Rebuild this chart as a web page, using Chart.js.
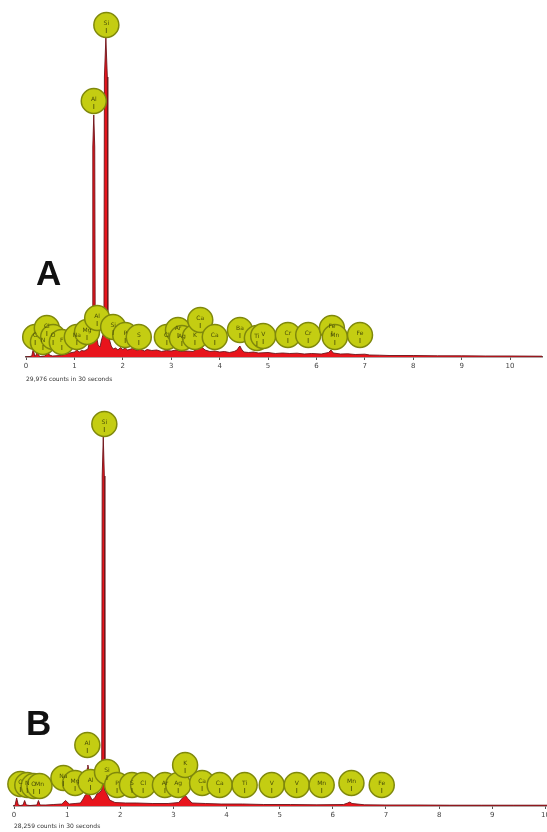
<!DOCTYPE html>
<html>
<head>
<meta charset="utf-8">
<script src="https://cdn.jsdelivr.net/npm/chart.js@4/dist/chart.umd.min.js"></script>
<style>
  body { margin: 0; background: #fff; width: 547px; height: 832px; position: relative; overflow: hidden; }
  canvas { position: absolute; left: 0; }
  #chartA { top: -4px; }
  #chartB { top: 388px; }
  .panel { position: absolute; font: bold 35px "Liberation Sans", Arial, sans-serif; line-height: 35px; color: #111; }
</style>
</head>
<body>
<canvas id="chartA" width="556" height="389"></canvas>
<canvas id="chartB" width="561" height="444"></canvas>
<div class="panel" style="left:36px; top:255px;">A</div>
<div class="panel" style="left:26px; top:705px;">B</div>
<script>
// spectrum A (keV, counts)
const energyA = [0, 0.08, 0.12, 0.15, 0.18, 0.21, 0.23, 0.26, 0.3, 0.38, 0.42, 0.45, 0.48, 0.55, 0.7, 0.8, 0.9, 1.0, 1.05, 1.1, 1.15, 1.2, 1.28, 1.31, 1.34, 1.37, 1.38, 1.4, 1.42, 1.43, 1.46, 1.49, 1.53, 1.56, 1.59, 1.61, 1.62, 1.65, 1.68, 1.69, 1.72, 1.76, 1.8, 1.85, 1.9, 1.95, 2.0, 2.05, 2.1, 2.2, 2.3, 2.35, 2.45, 2.5, 2.6, 2.7, 2.8, 2.9, 3.0, 3.1, 3.2, 3.3, 3.45, 3.52, 3.56, 3.6, 3.64, 3.7, 3.8, 3.9, 4.0, 4.1, 4.2, 4.3, 4.36, 4.4, 4.42, 4.45, 4.5, 4.6, 4.7, 4.8, 5.0, 5.15, 5.3, 5.45, 5.6, 5.75, 5.9, 6.1, 6.25, 6.3, 6.35, 6.5, 6.65, 6.8, 7.0, 7.1, 7.3, 7.5, 8.0, 8.5, 9.0, 9.5, 10.0, 10.66];
const countsA = [0, 5, 10, 80, 10, 15, 90, 15, 5, 10, 20, 80, 20, 10, 15, 25, 40, 50, 70, 50, 65, 60, 80, 150, 230, 250, 2100, 2420, 2100, 260, 200, 120, 100, 170, 220, 240, 2800, 3190, 2800, 220, 180, 110, 80, 90, 70, 95, 75, 90, 70, 85, 65, 80, 60, 75, 65, 70, 55, 65, 60, 70, 55, 60, 55, 75, 100, 110, 95, 70, 55, 60, 50, 55, 45, 55, 70, 100, 110, 80, 50, 45, 50, 40, 45, 35, 40, 35, 38, 30, 35, 30, 45, 70, 40, 30, 32, 25, 28, 20, 18, 15, 15, 12, 12, 10, 10, 8];

// spectrum B (keV, counts)
const energyB = [0, 0.02, 0.05, 0.08, 0.12, 0.17, 0.2, 0.23, 0.3, 0.43, 0.46, 0.49, 0.6, 0.75, 0.9, 0.97, 1.04, 1.15, 1.25, 1.3, 1.34, 1.37, 1.38, 1.39, 1.4, 1.42, 1.47, 1.52, 1.56, 1.62, 1.65, 1.66, 1.68, 1.7, 1.71, 1.74, 1.8, 1.9, 2.1, 2.3, 2.6, 2.9, 3.1, 3.17, 3.22, 3.27, 3.35, 3.6, 3.9, 4.3, 4.7, 5.2, 5.7, 6.2, 6.28, 6.32, 6.36, 6.6, 7.0, 7.6, 8.2, 8.8, 9.4, 10.03];
const countsB = [0, 10, 80, 10, 5, 10, 55, 10, 5, 10, 55, 10, 10, 15, 20, 55, 20, 25, 30, 70, 110, 120, 380, 410, 380, 110, 60, 80, 120, 140, 160, 3300, 3690, 3300, 160, 130, 60, 35, 30, 30, 25, 25, 35, 80, 110, 75, 30, 25, 20, 20, 15, 15, 12, 15, 30, 40, 25, 12, 10, 10, 8, 8, 8, 8];

// element markers
const namesA = ['C', 'N', 'Cl', 'O', 'F', 'Na', 'Mg', 'Al', 'Si', 'P', 'S', 'Cl', 'Ar', 'Ag', 'K', 'Ca', 'Ca', 'Ba', 'Ti', 'V', 'Cr', 'Cr', 'Fe', 'Mn', 'Fe', 'Al', 'Si'];
const markerEnergyA = [0.19, 0.35, 0.43, 0.56, 0.74, 1.05, 1.26, 1.47, 1.80, 2.05, 2.33, 2.91, 3.14, 3.22, 3.49, 3.60, 3.90, 4.42, 4.77, 4.90, 5.41, 5.83, 6.32, 6.38, 6.90, 1.40, 1.66];
const markerCountsA = [200, 150, 290, 200, 150, 200, 250, 390, 300, 220, 200, 200, 270, 190, 200, 370, 200, 270, 190, 210, 220, 220, 290, 200, 220, 2560, 3320];

const namesB = ['C', 'N', 'O', 'Mn', 'Na', 'Mg', 'Al', 'Si', 'P', 'S', 'Cl', 'Ar', 'Ag', 'Ca', 'Ca', 'Ti', 'V', 'V', 'Mn', 'Mn', 'Fe', 'Al', 'K', 'Si'];
const markerEnergyB = [0.12, 0.25, 0.37, 0.48, 0.93, 1.15, 1.44, 1.75, 1.94, 2.22, 2.43, 2.84, 3.09, 3.54, 3.87, 4.34, 4.85, 5.32, 5.79, 6.35, 6.92, 1.38, 3.22, 1.70];
const markerCountsB = [220, 210, 200, 200, 280, 230, 240, 340, 210, 210, 210, 210, 210, 230, 210, 210, 210, 210, 210, 230, 210, 610, 410, 3820];

const xTicks = [0, 1, 2, 3, 4, 5, 6, 7, 8, 9, 10];

const markerText = {
  id: 'markerText',
  afterDatasetsDraw(chart, args, opts) {
    const ctx = chart.ctx;
    const meta = chart.getDatasetMeta(0);
    ctx.save();
    meta.data.forEach((pt, i) => {
      ctx.fillStyle = '#4a4f08';
      ctx.font = '6px "DejaVu Sans", sans-serif';
      ctx.textAlign = 'center';
      ctx.textBaseline = 'middle';
      ctx.fillText(opts.names[i], pt.x, pt.y - 2);
      ctx.strokeStyle = '#4a4f08';
      ctx.lineWidth = 0.8;
      ctx.beginPath();
      ctx.moveTo(pt.x, pt.y + 3);
      ctx.lineTo(pt.x, pt.y + 8);
      ctx.stroke();
    });
    ctx.restore();
  }
};

// the marker radius makes chart.js keep ~14px free on every side, canvases are sized for that
const makeChart = (canvas, energy, counts, names, mE, mC, opts) => {
  return new Chart(canvas, {
    type: 'line',
    data: {
      datasets: [
        {
          type: 'scatter',
          data: mE.map((e, i) => ({ x: e, y: mC[i] })),
          pointRadius: 12.5,
          pointBackgroundColor: '#c4cd12',
          pointBorderColor: '#7f880c',
          pointBorderWidth: 1.5,
          clip: false,
          order: 0,
        },
        {
          data: energy.map((e, i) => ({ x: e, y: counts[i] })),
          borderColor: 'rgba(110, 20, 25, 0.9)',
          borderWidth: 1,
          backgroundColor: '#e8141c',
          fill: 'origin',
          pointRadius: 0,
          tension: 0,
          order: 1,
        },
      ],
    },
    options: {
      responsive: false,
      animation: false,
      devicePixelRatio: 1,
      layout: { padding: { left: opts.left, right: 0, top: 0, bottom: 0 } },
      plugins: { legend: { display: false }, tooltip: { enabled: false }, markerText: { names } },
      scales: {
        x: {
          type: 'linear',
          min: 0,
          max: opts.max,
          afterBuildTicks: (scale) => { scale.ticks = xTicks.map((v) => ({ value: v })); },
          afterFit: (scale) => { scale.height = opts.axisH; scale.paddingLeft = 0; scale.paddingRight = 0; },
          border: { color: '#6a4a4a', width: 1.5 },
          grid: { drawOnChartArea: false, color: '#555', tickLength: 3 },
          ticks: { font: { size: 7, family: 'DejaVu Sans' }, color: '#444', padding: 2, maxRotation: 0 },
          title: {
            display: true,
            text: opts.title,
            align: 'start',
            font: { size: 6, family: 'DejaVu Sans' },
            color: '#333',
            padding: { top: 0, bottom: 2 },
          },
        },
        y: { display: false, min: 0, max: opts.ymax },
      },
    },
    plugins: [markerText],
  });
};

makeChart(document.getElementById('chartA'), energyA, countsA, namesA, markerEnergyA, markerCountsA,
  { left: 26, max: 10.66, ymax: 3470, axisH: 28, title: '29,976 counts in 30 seconds' });
makeChart(document.getElementById('chartB'), energyB, countsB, namesB, markerEnergyB, markerCountsB,
  { left: 14, max: 10.03, ymax: 4040, axisH: 26, title: '28,259 counts in 30 seconds' });
</script>
</body>
</html>
